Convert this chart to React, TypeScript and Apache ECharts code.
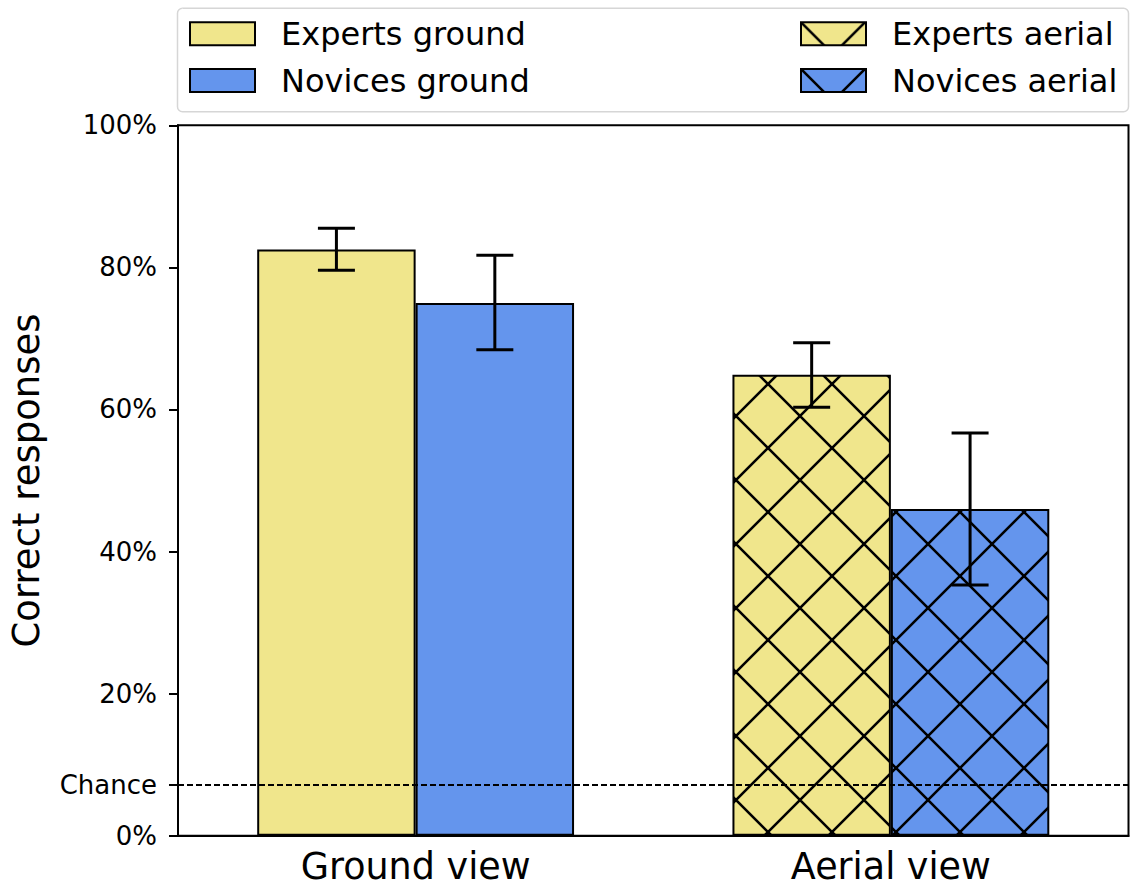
import React, { useEffect, useRef } from "react";
import * as echarts from "echarts";

const categories = ["Ground view", "Aerial view"];
const seriesNames = ["Experts ground", "Novices ground", "Experts aerial", "Novices aerial"];
const expertsGround = [82.5, "-"];
const novicesGround = [75.0, "-"];
const expertsAerial = ["-", 64.9];
const novicesAerial = ["-", 46.0];
// [category index, side (-1 experts, +1 novices), low, high]
const errorBars = [
  [0, -1, 79.6, 85.5],
  [0, 1, 68.4, 81.7],
  [1, -1, 60.3, 69.4],
  [1, 1, 35.3, 56.7],
];
const chance = 100 / 14;
const yTicks = [0, chance, 20, 40, 60, 80, 100];

const KHAKI = "#F0E68C";
const BLUE = "#6495ED";
const FONT = "'DejaVu Sans'";

function hatchCanvas(bg: string) {
  const c = document.createElement("canvas");
  c.width = 64;
  c.height = 64;
  const ctx = c.getContext("2d")!;
  ctx.fillStyle = bg;
  ctx.fillRect(0, 0, 64, 64);
  ctx.strokeStyle = "#000";
  ctx.lineWidth = 2.6;
  ctx.beginPath();
  for (const k of [-64, 0, 64]) {
    ctx.moveTo(k, 0);
    ctx.lineTo(k + 64, 64);
    ctx.moveTo(k, 64);
    ctx.lineTo(k + 64, 0);
  }
  ctx.stroke();
  return c;
}

function pattern(c: HTMLCanvasElement, tx: number, ty: number) {
  return {
    image: c,
    repeat: "repeat",
    imageWidth: 64,
    imageHeight: 64,
    x: -7.3 - tx,
    y: -9.7 - ty,
  } as any;
}

export default function App() {
  const ref = useRef<HTMLDivElement>(null);
  useEffect(() => {
    document.body.style.margin = "0";
    const chart = echarts.init(ref.current!, null, { renderer: "svg" });
    const cK = hatchCanvas(KHAKI);
    const cB = hatchCanvas(BLUE);
    const barBase = {
      type: "bar",
      barGap: "0%",
      barCategoryGap: "33.33%",
      animation: false,
    };
    const legendCommon = {
      orient: "vertical",
      align: "left",
      padding: 0,
      icon: "rect",
      itemWidth: 65,
      itemHeight: 23,
      itemGap: 14.7,
      selectedMode: false,
      itemStyle: { borderColor: "#000", borderWidth: 2 },
      textStyle: {
        fontFamily: FONT,
        fontSize: 32,
        lineHeight: 32,
        color: "#000",
        padding: [0, 0, 0, 21],
      },
    };
    chart.setOption({
      animation: false,
      textStyle: { fontFamily: FONT },
      graphic: [
        {
          type: "rect",
          shape: { x: 177.5, y: 8.3, width: 951, height: 103.4, r: 5 },
          style: { fill: "#fff", stroke: "#d6d6d6", lineWidth: 1.5 },
          z: 0,
        },
      ],
      legend: [
        {
          ...legendCommon,
          left: 189,
          top: 17.8,
          data: [seriesNames[0], seriesNames[1]],
        },
        {
          ...legendCommon,
          left: 800,
          top: 17.8,
          data: [
            { name: seriesNames[2], itemStyle: { color: pattern(cK, 800, 22.3) } },
            { name: seriesNames[3], itemStyle: { color: pattern(cB, 800, 69) } },
          ],
        },
      ],
      grid: {
        left: 177.5,
        right: 1.5,
        top: 125.3,
        bottom: 52.3,
        show: true,
        borderColor: "#000",
        borderWidth: 2,
        backgroundColor: "transparent",
      },
      xAxis: {
        type: "category",
        data: categories,
        axisLine: { lineStyle: { color: "#000", width: 2 } },
        axisTick: { alignWithLabel: true, length: 9, lineStyle: { color: "#000", width: 2 } },
        axisLabel: {
          color: "#000",
          fontSize: 36.5,
          lineHeight: 28,
          fontFamily: FONT,
          margin: 17,
        },
      },
      yAxis: {
        type: "value",
        min: 0,
        max: 100,
        name: "Correct responses",
        nameLocation: "middle",
        nameRotate: 90,
        nameGap: 133,
        nameTextStyle: { color: "#000", fontSize: 37, fontFamily: FONT },
        splitLine: { show: false },
        axisLine: { show: true, lineStyle: { color: "#000", width: 2 } },
        axisTick: {
          show: true,
          length: 9,
          customValues: yTicks,
          lineStyle: { color: "#000", width: 2 },
        },
        axisLabel: {
          color: "#000",
          fontSize: 26,
          fontFamily: FONT,
          margin: 21,
          customValues: yTicks,
          formatter: (v: number) => (Math.abs(v - chance) < 0.01 ? "Chance" : Math.round(v) + "%"),
        },
      },
      series: [
        {
          ...barBase,
          name: seriesNames[0],
          stack: "experts",
          data: expertsGround,
          itemStyle: { color: KHAKI, borderColor: "#000", borderWidth: 2 },
        },
        {
          ...barBase,
          name: seriesNames[1],
          stack: "novices",
          data: novicesGround,
          itemStyle: { color: BLUE, borderColor: "#000", borderWidth: 2 },
        },
        {
          ...barBase,
          name: seriesNames[2],
          stack: "experts",
          data: expertsAerial,
          itemStyle: { color: pattern(cK, 0, 0), borderColor: "#000", borderWidth: 2 },
        },
        {
          ...barBase,
          name: seriesNames[3],
          stack: "novices",
          data: novicesAerial,
          itemStyle: { color: pattern(cB, 0, 0), borderColor: "#000", borderWidth: 2 },
        },
        {
          type: "custom",
          name: "chance",
          z: 6,
          silent: true,
          data: [[0, chance]],
          encode: { x: 0, y: 1 },
          renderItem: (params: any, api: any) => {
            const y = api.coord([0, api.value(1)])[1];
            const cs = params.coordSys;
            return {
              type: "line",
              shape: { x1: cs.x, y1: y, x2: cs.x + cs.width, y2: y },
              style: { stroke: "#000", lineWidth: 2, lineDash: [6, 3] },
            };
          },
        },
        {
          type: "custom",
          name: "error",
          z: 5,
          silent: true,
          data: errorBars,
          encode: { x: 0, y: [2, 3] },
          renderItem: (params: any, api: any) => {
            const cat = api.value(0);
            const side = api.value(1);
            const lo = api.coord([cat, api.value(2)]);
            const hi = api.coord([cat, api.value(3)]);
            const band = api.size([1, 0])[0];
            const x = lo[0] + (side * band) / 6;
            const hw = 18.5;
            const st = { stroke: "#000", lineWidth: 3 };
            return {
              type: "group",
              children: [
                { type: "line", shape: { x1: x, y1: lo[1], x2: x, y2: hi[1] }, style: st },
                { type: "line", shape: { x1: x - hw, y1: lo[1], x2: x + hw, y2: lo[1] }, style: st },
                { type: "line", shape: { x1: x - hw, y1: hi[1], x2: x + hw, y2: hi[1] }, style: st },
              ],
            };
          },
        },
      ],
    });
    return () => chart.dispose();
  }, []);
  return <div ref={ref} style={{ width: 1130, height: 888 }} />;
}
